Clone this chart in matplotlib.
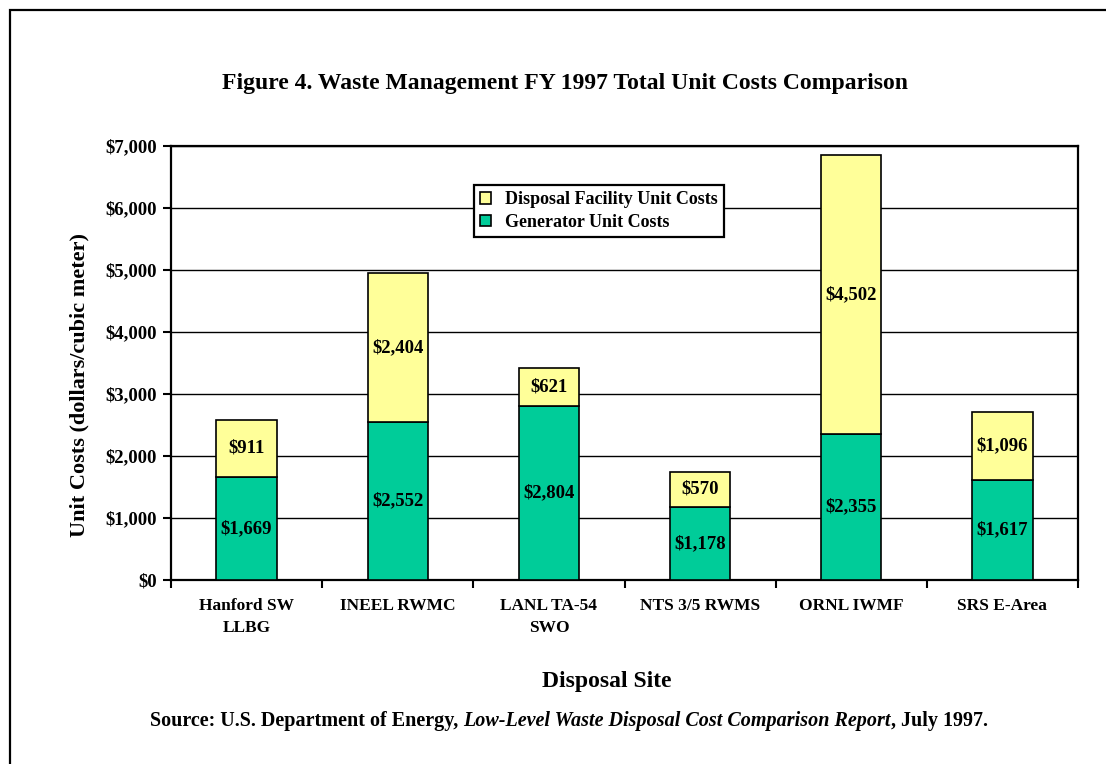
import matplotlib
matplotlib.use("Agg")
import matplotlib.pyplot as plt
from matplotlib.patches import Patch, Rectangle
import numpy as np

sites = ["Hanford SW\nLLBG", "INEEL RWMC", "LANL TA-54\nSWO", "NTS 3/5 RWMS", "ORNL IWMF", "SRS E-Area"]
generator = [1669, 2552, 2804, 1178, 2355, 1617]
disposal = [911, 2404, 621, 570, 4502, 1096]
yticks = [0, 1000, 2000, 3000, 4000, 5000, 6000, 7000]

GREEN = "#00CC99"
YELLOW = "#FFFF99"
FONT = "Liberation Serif"
plt.rcParams["font.family"] = FONT

W, H = 1106, 764
fig = plt.figure(figsize=(W / 100, H / 100), dpi=100)

def fx(px):
    return px / W

def fy(py):
    return 1 - py / H

AX_L, AX_R, AX_T, AX_B = 171, 1078, 146, 580
ax = fig.add_axes([fx(AX_L), fy(AX_B), fx(AX_R) - fx(AX_L), fy(AX_T) - fy(AX_B)])

x = np.arange(len(sites))
bw = 0.4
ax.bar(x, generator, bw, color=GREEN, edgecolor="black", linewidth=1.2, zorder=3)
ax.bar(x, disposal, bw, bottom=generator, color=YELLOW, edgecolor="black", linewidth=1.2, zorder=3)

for i in range(len(sites)):
    ax.text(x[i], generator[i] / 2, f"${generator[i]:,}", ha="center", va="center",
            fontsize=13.5, fontweight="bold", zorder=4)
    ax.text(x[i], generator[i] + disposal[i] / 2, f"${disposal[i]:,}", ha="center", va="center",
            fontsize=13.5, fontweight="bold", zorder=4)

ax.set_xlim(-0.5, len(sites) - 0.5)
ax.set_ylim(0, 7000)
ax.set_yticks(yticks)
ax.set_yticklabels([f"${v:,}" for v in yticks], fontsize=13.5, fontweight="bold")
ax.yaxis.grid(True, color="black", linewidth=1.0, zorder=0)
ax.set_axisbelow(True)

ax.set_xticks(x)
ax.set_xticklabels(sites, fontsize=12.5, fontweight="bold", linespacing=1.5)
ax.tick_params(axis="x", length=0, pad=13)
ax.set_xticks(np.arange(-0.5, len(sites), 1.0), minor=True)
ax.tick_params(axis="x", which="minor", length=6, width=1.5, direction="out")
ax.tick_params(axis="y", length=6, width=1.5, direction="out", pad=4)

for s in ax.spines.values():
    s.set_linewidth(1.6)
    s.set_color("black")

ax.set_ylabel("Unit Costs (dollars/cubic meter)", fontsize=16, fontweight="bold", va="center")
ax.yaxis.set_label_coords(-(AX_L - 79) / (AX_R - AX_L), 1 - (385 - AX_T) / (AX_B - AX_T))

handles = [Patch(facecolor=YELLOW, edgecolor="black", linewidth=1.2, label="Disposal Facility Unit Costs"),
           Patch(facecolor=GREEN, edgecolor="black", linewidth=1.2, label="Generator Unit Costs")]
leg = ax.legend(handles=handles, loc="upper left",
                bbox_to_anchor=((474 - AX_L) / (AX_R - AX_L), 1 - (185 - AX_T) / (AX_B - AX_T)),
                frameon=True, fancybox=False, edgecolor="black", framealpha=1,
                prop={"family": FONT, "weight": "bold", "size": 13},
                handlelength=0.6, handleheight=0.6, handletextpad=0.75,
                borderpad=0.35, labelspacing=0.3, borderaxespad=0)
leg.get_frame().set_linewidth(1.6)
leg.set_zorder(5)

fig.text(fx(565), fy(84), "Figure 4. Waste Management FY 1997 Total Unit Costs Comparison",
         ha="center", va="center", fontsize=17, fontweight="bold")
fig.text(fx(607), fy(682), "Disposal Site", ha="center", va="center", fontsize=17, fontweight="bold")

src_y = fy(721)
src_size = 14.5
parts = [("Source: U.S. Department of Energy, ", "normal"),
         ("Low-Level Waste Disposal Cost Comparison Report", "italic"),
         (", July 1997.", "normal")]
fig.canvas.draw()
r = fig.canvas.get_renderer()
texts = []
for s, st in parts:
    t = fig.text(0, src_y, s, ha="left", va="center", fontsize=src_size, fontweight="bold", style=st)
    texts.append(t)
widths = [t.get_window_extent(r).width for t in texts]
xpos = 569 - sum(widths) / 2
for t, w in zip(texts, widths):
    t.set_x(xpos / W)
    xpos += w

fig.add_artist(Rectangle((fx(10), fy(H + 20)), fx(W + 20) - fx(10), fy(10) - fy(H + 20),
                         transform=fig.transFigure, fill=False, edgecolor="black", linewidth=1.6,
                         clip_on=False))

fig.savefig("out.png", dpi=100)
